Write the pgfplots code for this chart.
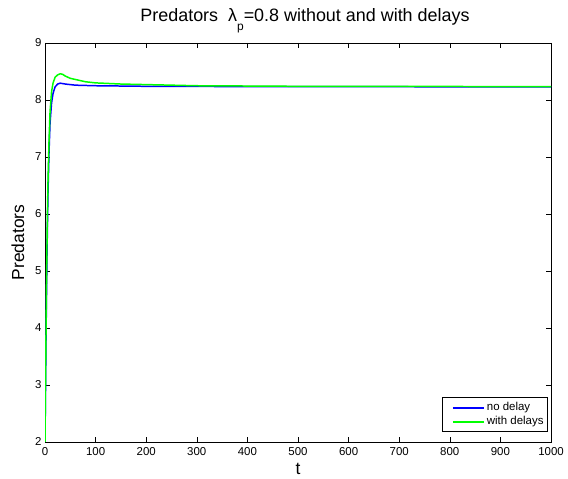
\documentclass[border=0pt]{standalone}
\usepackage{pgfplots}
\pgfplotsset{compat=1.18}
\usepackage{fontspec}
\setmainfont{Liberation Sans}
\definecolor{mblue}{rgb}{0,0,1}
\definecolor{mgreen}{rgb}{0,1,0}
\begin{document}
\begin{tikzpicture}
\begin{axis}[
  scale only axis,
  width=506bp, height=399bp,
  xmin=0, xmax=1000, ymin=2, ymax=9,
  xtick={0,100,...,1000}, ytick={2,3,...,9},
  tick align=inside,
  tick pos=both,
  major tick length=5bp,
  axis line style={line width=0.9pt},
  every tick/.style={line width=0.6pt, black},
  /pgf/number format/assume math mode=true,
  /pgf/number format/1000 sep={},
  tick label style={font=\fontsize{11.5}{12}\selectfont},
  xticklabel style={yshift=-2bp},
  xlabel={t}, ylabel={Predators},
  label style={font=\fontsize{17.5}{18}\selectfont},
  xlabel style={at={(axis description cs:0.5,0)}, anchor=base, yshift=-33bp},
  ylabel style={at={(axis description cs:-0.0534,0.5)}, anchor=center, rotate=0},
  title={Predators\ \ λ\raisebox{-9bp}{\fontsize{12}{12}\selectfont p}=0.8 without and with delays},
  title style={font=\fontsize{18}{19}\selectfont, at={(axis description cs:0.5,1)}, anchor=base, yshift=16bp, xshift=7bp},
  legend style={at={(axis description cs:1,0)}, anchor=south east, xshift=-3bp, yshift=10bp, font=\fontsize{11.5}{12}\selectfont, draw=black, line width=0.9pt, inner sep=2bp, row sep=-2pt},
  legend cell align=left,
]
\coordinate (ll) at (rel axis cs:0,0);
\coordinate (ur) at (rel axis cs:1,1);
\addplot[mblue, line width=1.5pt, legend image code/.code={\path[draw=none, fill=none] (-8bp,-8bp) rectangle (31bp,8bp); \draw[mblue, line width=2pt] (0bp,0bp) -- (31bp,0bp);}] coordinates {
(0,2) (1,2.9) (2,3.8) (3,4.6) (4,5.3) (5,5.9) (6,6.4) (8,7.1) (10,7.6) (13,7.95) (16,8.12) (20,8.23) (25,8.28) (30,8.295) (40,8.28) (60,8.26) (100,8.25) (200,8.24) (400,8.235) (1000,8.23)};
\addlegendentry{no delay}
\addplot[mgreen, line width=1.5pt, legend image code/.code={\path[draw=none, fill=none] (-8bp,-8bp) rectangle (31bp,8bp); \draw[mgreen, line width=2pt] (0bp,0bp) -- (31bp,0bp);}] coordinates {
(0,2) (1,3.0) (2,3.9) (3,4.8) (4,5.5) (5,6.1) (6,6.6) (8,7.3) (10,7.8) (13,8.15) (16,8.3) (20,8.4) (25,8.44) (30,8.46) (35,8.45) (40,8.42) (50,8.38) (60,8.36) (80,8.32) (100,8.30) (150,8.28) (200,8.27) (300,8.25) (500,8.24) (1000,8.235)};
\addlegendentry{with delays}
\end{axis}
\pgfresetboundingbox
\path ([shift={(-45bp,-37bp)}]ll) rectangle ([shift={(17bp,43bp)}]ur);
\end{tikzpicture}
\end{document}
